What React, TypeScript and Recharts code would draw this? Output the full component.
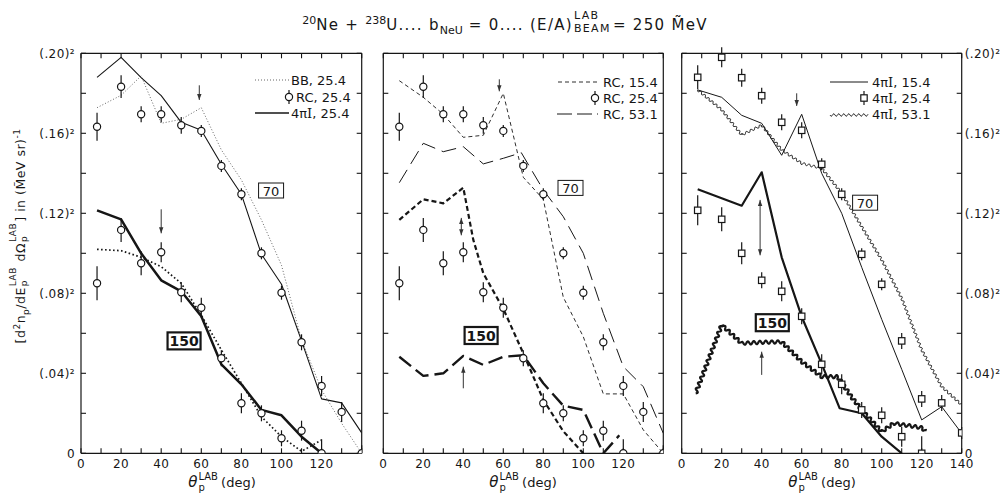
import React from 'react';
import { ComposedChart, Line, Scatter, XAxis, YAxis, ErrorBar, ReferenceLine, ReferenceDot } from 'recharts';

const FONT = '"DejaVu Sans", sans-serif';
const INK = '#161616';

// proton angles (deg)
const ANG14 = [8, 20, 30, 40, 50, 60, 70, 80, 90, 100, 110, 120, 130, 140];
const ANG12 = [8, 20, 30, 40, 50, 60, 70, 80, 90, 100, 110, 120];

// values are sqrt of the cross section, the axis is drawn in those units
// RC, 25.4 (circles) - 70 MeV and 150 MeV
const rc25_70 = [0.1633, 0.1833, 0.1695, 0.1695, 0.164, 0.1612, 0.1437, 0.1295, 0.1, 0.0803, 0.0555, 0.0337, 0.0207, 0];
const rc25_70err = [0.007, 0.0057, 0.004, 0.004, 0.0042, 0.003, 0.003, 0.003, 0.003, 0.0035, 0.004, 0.005, 0.005, 0.004];
const rc25_150 = [0.085, 0.1117, 0.095, 0.1005, 0.0805, 0.0728, 0.0475, 0.025, 0.02, 0.0075, 0.0113, 0];
const rc25_150err = [0.0085, 0.006, 0.006, 0.005, 0.005, 0.005, 0.004, 0.005, 0.004, 0.004, 0.005, 0.007];

// 4piI, 25.4 (squares in 3rd panel, solid in 1st)
const i25_70 = [0.188, 0.198, 0.1878, 0.1788, 0.1655, 0.1615, 0.1445, 0.1295, 0.0995, 0.0845, 0.0562, 0.0272, 0.0252, 0.0102];
const i25_70err = [0.006, 0.005, 0.0045, 0.004, 0.004, 0.004, 0.003, 0.003, 0.003, 0.003, 0.004, 0.004, 0.004, 0.003];
const i25_150 = [0.1215, 0.117, 0.1, 0.0865, 0.081, 0.0685, 0.0445, 0.0345, 0.0217, 0.019, 0.0083, 0];
const i25_150err = [0.0075, 0.006, 0.0055, 0.004, 0.005, 0.004, 0.005, 0.005, 0.004, 0.004, 0.005, 0.0085];

// BB, 25.4
const bb25_70 = [0.1728, 0.179, 0.1887, 0.165, 0.167, 0.1728, 0.1517, 0.1367, 0.1167, 0.094, 0.0567, 0.0317, 0.015, 0];
const bb25_150 = [0.102, 0.1013, 0.098, 0.0933, 0.085, 0.069, 0.0517, 0.035, 0.0183, 0.0083, 0.001, 0.0067];

// RC, 15.4 and RC, 53.1
const rc15_70 = [0.1863, 0.178, 0.1695, 0.158, 0.159, 0.18, 0.138, 0.127, 0.078, 0.0583, 0.0297, 0.0297, 0.0117, 0];
const rc15_150Ang = [8, 20, 30, 40, 45, 50, 60, 70, 80, 90, 100];
const rc15_150 = [0.1167, 0.127, 0.125, 0.1328, 0.1067, 0.09, 0.0722, 0.05, 0.0267, 0.011, 0];
const rc53_70Ang = [8, 20, 30, 40, 50, 60, 69, 80, 90, 100, 110, 120, 130, 140];
const rc53_70 = [0.1353, 0.155, 0.1508, 0.1533, 0.1447, 0.1475, 0.1503, 0.1317, 0.1183, 0.1, 0.07, 0.0433, 0.0333, 0.01];
const rc53_150Ang = [8, 20, 30, 40, 50, 60, 70, 80, 90, 100, 110, 118];
const rc53_150 = [0.0483, 0.0387, 0.04, 0.0487, 0.0442, 0.0483, 0.049, 0.035, 0.0238, 0.0217, 0, 0.009];

// 4piI, 15.4 and 4piI, 53.1
const i15_70 = [0.1817, 0.178, 0.169, 0.165, 0.149, 0.1695, 0.14, 0.12, 0.093, 0.067, 0.042, 0.0167, 0.0233, 0.01];
const i15_150Ang = [8, 30, 40, 50, 60, 70, 79, 90, 100, 110];
const i15_150 = [0.132, 0.1238, 0.1405, 0.098, 0.0683, 0.0447, 0.0225, 0.02, 0.0083, 0];
const i53_70 = [0.1817, 0.1717, 0.1592, 0.164, 0.1517, 0.145, 0.1425, 0.13, 0.1133, 0.0967, 0.0775, 0.0517, 0.0333, 0.0242];
const i53_150Ang = [7, 20, 30, 40, 50, 60, 70, 78, 85, 90, 100, 106, 120, 122];
const i53_150 = [0.03, 0.0642, 0.055, 0.0555, 0.0557, 0.0458, 0.0383, 0.0383, 0.028, 0.0217, 0.0108, 0.015, 0.0128, 0.011];

const xTicks = [0, 10, 20, 30, 40, 50, 60, 70, 80, 90, 100, 110, 120, 130, 140];
const yTicks = [0, 0.02, 0.04, 0.06, 0.08, 0.1, 0.12, 0.14, 0.16, 0.18, 0.2];

const pts = (xs: number[], ys: number[], es?: number[]) =>
  xs.map((x, i) => ({ x, y: ys[i], e: es ? (ys[i] === 0 ? [0, es[i]] : [es[i], es[i]]) : undefined }));

const yLabel = (v: number) => {
  const n = Math.round(v * 100);
  if (n % 4 !== 0) return '';
  if (n === 0) return '0';
  return `(.${String(n).padStart(2, '0')})\u00B2`;
};

// wavy curve for the 53.1 curves
const wavy = (amp: number, wl: number) => (context: any) => {
  let px: number | null = null;
  let py = 0;
  let phase = 0;
  return {
    areaStart() {},
    areaEnd() {},
    lineStart() { px = null; phase = 0; },
    lineEnd() {},
    point(x: number, y: number) {
      x = +x; y = +y;
      if (px === null) {
        context.moveTo(x, y);
      } else {
        const dx = x - px, dy = y - py;
        const len = Math.hypot(dx, dy) || 1;
        const nx = -dy / len, ny = dx / len;
        const steps = Math.max(2, Math.ceil(len * 2));
        for (let k = 1; k <= steps; k++) {
          const t = k / steps;
          const off = amp * Math.sin((2 * Math.PI * (phase + t * len)) / wl);
          context.lineTo(px + dx * t + nx * off, py + dy * t + ny * off);
        }
        phase += len;
      }
      px = x; py = y;
    },
  };
};

const circle = (p: any) => <circle cx={p.cx} cy={p.cy} r={3.6} fill="#fff" stroke={INK} strokeWidth={1.2} />;
const square = (p: any) => <rect x={p.cx - 3.2} y={p.cy - 3.2} width={6.4} height={6.4} fill="#fff" stroke={INK} strokeWidth={1.2} />;
const noTick = () => <g />;

const arrowShape = (both: boolean) => (p: any) => {
  const { x1, y1, x2, y2 } = p;
  const d = Math.sign(y2 - y1) || 1;
  const head = (x: number, y: number, s: number) => `M${x - 2.2},${y - s * 6} L${x},${y} L${x + 2.2},${y - s * 6} Z`;
  return (
    <g>
      <line x1={x1} y1={y1} x2={x2} y2={y2} stroke="#333" strokeWidth={1} />
      <path d={head(x2, y2, d)} fill="#333" />
      {both && <path d={head(x1, y1, -d)} fill="#333" />}
    </g>
  );
};

const boxShape = (text: string, w: number, h: number, bold: boolean) => (p: any) => (
  <g>
    <rect x={p.cx - w / 2} y={p.cy - h / 2} width={w} height={h} fill="#fff" stroke={INK} strokeWidth={bold ? 2.2 : 1} />
    <text x={p.cx} y={p.cy + 5} textAnchor="middle" fontFamily={FONT} fontSize={bold ? 14 : 13} fontWeight={bold ? 'bold' : 'normal'} fill={INK}>{text}</text>
  </g>
);

type LineSpec = { data: any[]; width: number; dash?: string; color?: string; wave?: [number, number] };
type ScatterSpec = { data: any[]; shape: any };
type ArrowSpec = { x: number; from: number; to: number; both?: boolean };
type BoxSpec = { x: number; y: number; text: string; w: number; h: number; bold: boolean };

interface PanelProps {
  plotLeft: number;
  plotRight: number;
  leftLabels: boolean;
  rightLabels: boolean;
  maxLabel: number;
  lines: LineSpec[];
  scatters: ScatterSpec[];
  arrows: ArrowSpec[];
  boxes: BoxSpec[];
}

const tickStyle = { fill: INK, fontSize: 12, fontFamily: FONT, letterSpacing: 0.4 };
const tickLn = { stroke: INK, strokeWidth: 1.1 };
const PLOT_TOP = 53.3;
const PLOT_BOTTOM = 453.3;

// frame/label axes are 1px thick so they still get drawn; mirrored copies carry the inner tick marks
const Panel: React.FC<PanelProps> = ({ plotLeft, plotRight, leftLabels, rightLabels, maxLabel, lines, scatters, arrows, boxes }) => (
  <div style={{ position: 'absolute', left: 0, top: 0 }}>
    <ComposedChart width={1005} height={494}
      margin={{ top: PLOT_TOP, bottom: 494 - PLOT_BOTTOM - 1, left: plotLeft - 1, right: 1005 - plotRight - 1 }}>
      <XAxis xAxisId={0} dataKey="x" type="number" domain={[0, 140]} ticks={xTicks} allowDataOverflow height={1}
        stroke={INK} strokeWidth={1.2} tickLine={false} tickSize={0} tickMargin={6} tick={tickStyle} interval={0}
        tickFormatter={(v: number) => (v % 20 === 0 && v <= maxLabel ? String(v) : '')} />
      <XAxis xAxisId="bt" mirror dataKey="x" type="number" domain={[0, 140]} ticks={xTicks} allowDataOverflow height={1}
        axisLine={false} tickLine={tickLn} tickSize={5} tick={noTick} interval={0} />
      <XAxis xAxisId="t" orientation="top" mirror dataKey="x" type="number" domain={[0, 140]} ticks={xTicks} allowDataOverflow height={1}
        stroke={INK} strokeWidth={1.2} tickLine={tickLn} tickSize={5} tick={noTick} interval={0} />
      <YAxis yAxisId={0} type="number" domain={[0, 0.2]} ticks={yTicks} allowDataOverflow width={1}
        stroke={INK} strokeWidth={1.2} tickLine={false} tickSize={0} tickMargin={6} interval={0}
        tick={leftLabels ? tickStyle : noTick} tickFormatter={yLabel} />
      <YAxis yAxisId="lt" mirror type="number" domain={[0, 0.2]} ticks={yTicks} allowDataOverflow width={1}
        axisLine={false} tickLine={tickLn} tickSize={5} tick={noTick} interval={0} />
      <YAxis yAxisId="r" orientation="right" type="number" domain={[0, 0.2]} ticks={yTicks} allowDataOverflow width={1}
        stroke={INK} strokeWidth={1.2} tickLine={false} tickSize={0} tickMargin={3} interval={0}
        tick={rightLabels ? tickStyle : noTick} tickFormatter={yLabel} />
      <YAxis yAxisId="rt" orientation="right" mirror type="number" domain={[0, 0.2]} ticks={yTicks} allowDataOverflow width={1}
        axisLine={false} tickLine={tickLn} tickSize={5} tick={noTick} interval={0} />
      {lines.map((l, i) => (
        <Line key={`l${i}`} data={l.data} dataKey="y" type={l.wave ? (wavy(l.wave[0], l.wave[1]) as any) : 'linear'}
          stroke={l.color || INK} strokeWidth={l.width} strokeDasharray={l.dash} dot={false} activeDot={false}
          isAnimationActive={false} strokeLinejoin="round" />
      ))}
      {scatters.map((s, i) => (
        <Scatter key={`s${i}`} data={s.data} dataKey="y" shape={s.shape} isAnimationActive={false}>
          <ErrorBar dataKey="e" direction="y" width={0} stroke={INK} strokeWidth={1.2} />
        </Scatter>
      ))}
      {arrows.map((a, i) => (
        <ReferenceLine key={`a${i}`} segment={[{ x: a.x, y: a.from }, { x: a.x, y: a.to }]} shape={arrowShape(!!a.both)} />
      ))}
      {boxes.map((b, i) => (
        <ReferenceDot key={`b${i}`} x={b.x} y={b.y} shape={boxShape(b.text, b.w, b.h, b.bold)} />
      ))}
    </ComposedChart>
  </div>
);

const wavePath = (x0: number, x1: number, y: number, amp: number, wl: number) => {
  let d = `M${x0},${y}`;
  for (let x = x0; x <= x1; x += 0.5) d += ` L${x},${y + amp * Math.sin((2 * Math.PI * (x - x0)) / wl)}`;
  return d;
};

const LegendText: React.FC<{ x: number; y: number; children: React.ReactNode }> = ({ x, y, children }) => (
  <text x={x} y={y + 4.5} fontFamily={FONT} fontSize={13} fill={INK}>{children}</text>
);
const SerifI = () => <tspan fontFamily='"DejaVu Serif", serif'>I</tspan>;

// super/subscript pair stacked above each other (LAB over p)
const Stack: React.FC<{ up: string; down: string; size: number; upTop?: string; downTop?: string }> = ({ up, down, size, upTop = '-0.85em', downTop = '0.4em' }) => (
  <span style={{ display: 'inline-block', position: 'relative', fontSize: size, lineHeight: 1, width: `${Math.max(up.length, down.length) * 0.72 + 0.2}em`, height: '1em' }}>
    <span style={{ position: 'absolute', left: 1, top: upTop }}>{up}</span>
    <span style={{ position: 'absolute', left: 1, top: downTop }}>{down}</span>
  </span>
);

const XTitle: React.FC<{ cx: number }> = ({ cx }) => (
  <div style={{ position: 'absolute', left: cx - 60, width: 120, top: 474, lineHeight: '16px', textAlign: 'center', fontFamily: FONT, fontSize: 13, color: INK, whiteSpace: 'nowrap' }}>
    <span style={{ fontStyle: 'italic', fontSize: 15 }}>θ</span>
    <Stack up="LAB" down="p" size={10} upTop="-0.55em" downTop="0.55em" />
    <span>(deg)</span>
  </div>
);

export default function App() {
  const p1Lines: LineSpec[] = [
    { data: pts(ANG14, bb25_70), width: 1, dash: '1 2', color: '#666' },
    { data: pts(ANG14, i25_70), width: 1.1 },
    { data: pts(ANG12, bb25_150), width: 1.7, dash: '1.6 2.4' },
    { data: pts(ANG12, i25_150), width: 2.5 },
  ];
  const p2Lines: LineSpec[] = [
    { data: pts(ANG14, rc15_70), width: 0.9, dash: '4 3' },
    { data: pts(rc53_70Ang, rc53_70), width: 1, dash: '15 7' },
    { data: pts(rc15_150Ang, rc15_150), width: 2.2, dash: '5 3' },
    { data: pts(rc53_150Ang, rc53_150), width: 2.4, dash: '15 6' },
  ];
  const p3Lines: LineSpec[] = [
    { data: pts(ANG14, i15_70), width: 1 },
    { data: pts(ANG14, i53_70), width: 1, wave: [1.2, 5] },
    { data: pts(i15_150Ang, i15_150), width: 2.2 },
    { data: pts(i53_150Ang, i53_150), width: 2.2, wave: [1.6, 6] },
  ];
  const rcPts = [
    { data: pts(ANG14, rc25_70, rc25_70err), shape: circle },
    { data: pts(ANG12, rc25_150, rc25_150err), shape: circle },
  ];
  const iPts = [
    { data: pts(ANG14, i25_70, i25_70err), shape: square },
    { data: pts(ANG12, i25_150, i25_150err), shape: square },
  ];

  return (
    <div style={{ position: 'absolute', left: 0, top: 0, width: 1005, height: 494, background: '#fff', overflow: 'hidden' }}>
      <Panel plotLeft={81} plotRight={361.7} leftLabels rightLabels={false} maxLabel={120}
        lines={p1Lines} scatters={rcPts}
        arrows={[{ x: 59, from: 0.184, to: 0.1767 }, { x: 40, from: 0.122, to: 0.11 }]}
        boxes={[{ x: 94.8, y: 0.1314, text: '70', w: 25, h: 15, bold: false }, { x: 51.4, y: 0.0562, text: '150', w: 33, h: 17, bold: true }]} />
      <Panel plotLeft={383.3} plotRight={663.3} leftLabels={false} rightLabels={false} maxLabel={120}
        lines={p2Lines} scatters={rcPts}
        arrows={[{ x: 58, from: 0.187, to: 0.181 }, { x: 39, from: 0.1177, to: 0.109, both: true }, { x: 40, from: 0.0325, to: 0.0433 }]}
        boxes={[{ x: 93.6, y: 0.1327, text: '70', w: 25, h: 15, bold: false }, { x: 48.9, y: 0.0589, text: '150', w: 33, h: 17, bold: true }]} />
      <Panel plotLeft={681.7} plotRight={961.7} leftLabels={false} rightLabels maxLabel={140}
        lines={p3Lines} scatters={iPts}
        arrows={[{ x: 57.5, from: 0.18, to: 0.1737 }, { x: 39.2, from: 0.1267, to: 0.099, both: true }, { x: 40, from: 0.0392, to: 0.0508 }]}
        boxes={[{ x: 91.7, y: 0.1253, text: '70', w: 25, h: 15, bold: false }, { x: 45.3, y: 0.0653, text: '150', w: 33, h: 17, bold: true }]} />

      {/* legends */}
      <svg width={1005} height={494} style={{ position: 'absolute', left: 0, top: 0, pointerEvents: 'none' }}>
        <line x1={255} x2={289} y1={80} y2={80} stroke="#666" strokeWidth={1} strokeDasharray="1 2" />
        <LegendText x={291} y={80}>BB, 25.4</LegendText>
        <line x1={289} x2={289} y1={90} y2={104} stroke={INK} strokeWidth={1.2} />
        <circle cx={289} cy={97} r={3.6} fill="#fff" stroke={INK} strokeWidth={1.2} />
        <LegendText x={296} y={97}>RC, 25.4</LegendText>
        <line x1={255} x2={289} y1={113} y2={113} stroke={INK} strokeWidth={1.4} />
        <LegendText x={291} y={113}>4π<SerifI />, 25.4</LegendText>

        <line x1={558} x2={598} y1={82} y2={82} stroke={INK} strokeWidth={0.9} strokeDasharray="4 3" />
        <LegendText x={603} y={82}>RC, 15.4</LegendText>
        <line x1={595} x2={595} y1={91} y2={105} stroke={INK} strokeWidth={1.2} />
        <circle cx={595} cy={98} r={3.6} fill="#fff" stroke={INK} strokeWidth={1.2} />
        <LegendText x={603} y={98}>RC, 25.4</LegendText>
        <line x1={557} x2={598} y1={114} y2={114} stroke={INK} strokeWidth={1} strokeDasharray="15 5" />
        <LegendText x={603} y={114}>RC, 53.1</LegendText>

        <line x1={830} x2={868} y1={82} y2={82} stroke={INK} strokeWidth={1} />
        <LegendText x={872} y={82}>4π<SerifI />, 15.4</LegendText>
        <line x1={864} x2={864} y1={91} y2={105} stroke={INK} strokeWidth={1.2} />
        <rect x={860.8} y={94.8} width={6.4} height={6.4} fill="#fff" stroke={INK} strokeWidth={1.2} />
        <LegendText x={872} y={98}>4π<SerifI />, 25.4</LegendText>
        <path d={wavePath(830, 868, 115, 1.2, 5)} fill="none" stroke={INK} strokeWidth={1} />
        <LegendText x={872} y={114}>4π<SerifI />, 53.1</LegendText>
      </svg>

      {/* title */}
      <div style={{ position: 'absolute', left: 0, width: 1010, top: 12, lineHeight: '18px', textAlign: 'center', fontFamily: FONT, fontSize: 15, letterSpacing: 1.3, color: INK, whiteSpace: 'nowrap' }}>
        <sup style={{ fontSize: 11, letterSpacing: 0 }}>20</sup>Ne + <sup style={{ fontSize: 11, letterSpacing: 0 }}>238</sup>U.... b<sub style={{ fontSize: 11, letterSpacing: 0 }}>NeU</sub> = 0.... (E/A)
        <Stack up="LAB" down="BEAM" size={11} /> = 250 M&#771;eV
      </div>

      {/* y title */}
      <div style={{ position: 'absolute', left: 17 - 150, top: 236 - 10, width: 300, height: 20, transform: 'rotate(-90deg)', textAlign: 'center', fontFamily: FONT, fontSize: 12.5, letterSpacing: 0.5, color: INK, whiteSpace: 'nowrap', lineHeight: '20px' }}>
        [d<sup style={{ fontSize: 9 }}>2</sup>n<sub style={{ fontSize: 9 }}>p</sub>/dE<Stack up="LAB" down="p" size={9} /> dΩ<Stack up="LAB" down="p" size={9} />] in (M&#771;eV sr)<sup style={{ fontSize: 9 }}>-1</sup>
      </div>

      <XTitle cx={222} />
      <XTitle cx={523} />
      <XTitle cx={822} />
    </div>
  );
}
